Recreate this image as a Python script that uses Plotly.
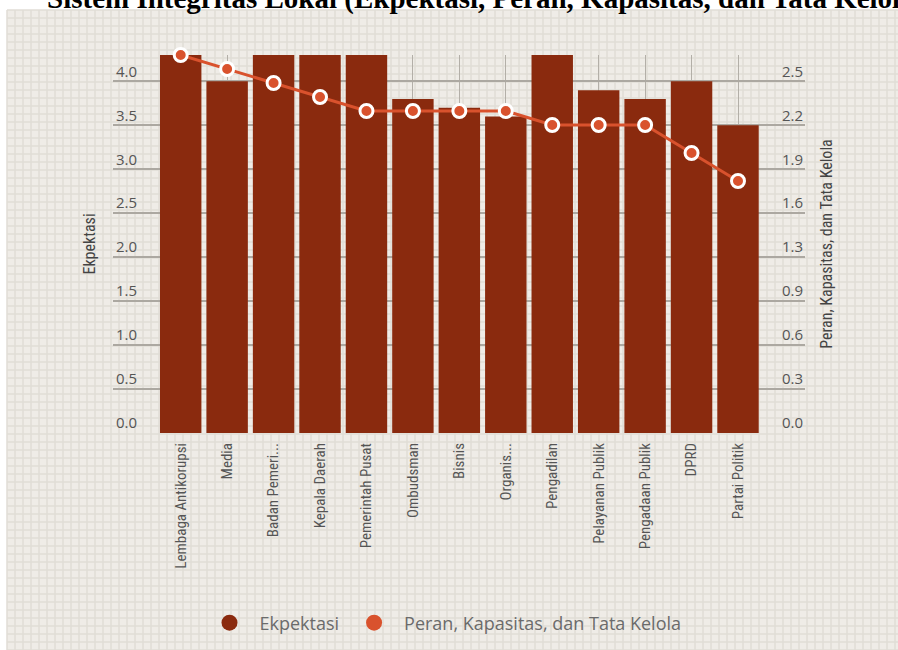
import plotly.graph_objects as go

# ---------------- data ----------------
categories = [
    "Lembaga Antikorupsi", "Media", "Badan Pemeri...", "Kepala Daerah",
    "Pemerintah Pusat", "Ombudsman", "Bisnis", "Organis...", "Pengadilan",
    "Pelayanan Publik", "Pengadaan Publik", "DPRD", "Partai Politik",
]
ekspektasi = [4.3, 4.0, 4.3, 4.3, 4.3, 3.8, 3.7, 3.6, 4.3, 3.9, 3.8, 4.0, 3.5]
peran = [2.7, 2.6, 2.5, 2.4, 2.3, 2.3, 2.3, 2.3, 2.2, 2.2, 2.2, 2.0, 1.8]
left_tick_labels = ["0.0", "0.5", "1.0", "1.5", "2.0", "2.5", "3.0", "3.5", "4.0"]
right_tick_labels = ["0.0", "0.3", "0.6", "0.9", "1.3", "1.6", "1.9", "2.2", "2.5"]

series_names = ["Ekpektasi", "Peran, Kapasitas, dan Tata Kelola"]
title_text = "Sistem Integritas Lokal (Ekpektasi, Peran, Kapasitas, dan Tata Kelola)"

# ---------------- styling / geometry ----------------
W, H = 898, 650
PL, PR, PT, PB = 113, 805, 55, 433          # plot-area pixel box
BAR_COLOR = "#8a2a0e"
LINE_COLOR = "#d9522d"
X_TICK_FONT = dict(family="Liberation Sans Narrow, Roboto Condensed, Open Sans, sans-serif",
                   size=15, color="#555555")
Y_TICK_FONT = dict(family="Open Sans, sans-serif", size=15, color="#555555")
AX_TITLE_FONT = dict(family="Liberation Sans Narrow, Roboto Condensed, Open Sans, sans-serif",
                     size=16, color="#444444")

left_max = max(ekspektasi)
right_max = max(peran)
left_tickvals = [float(t) for t in left_tick_labels]
right_tickvals = [v * right_max / left_max for v in left_tickvals]


def px_to_paper_x(px):
    return (px - PL) / (PR - PL)


def px_to_paper_y(py):
    return (PB - py) / (PB - PT)


fig = go.Figure()

fig.add_trace(go.Bar(
    x=categories, y=ekspektasi, name=series_names[0],
    marker=dict(color=BAR_COLOR, line=dict(width=0)),
    showlegend=False, yaxis="y",
))
fig.add_trace(go.Scatter(
    x=categories, y=peran, name=series_names[1], mode="lines+markers",
    line=dict(color=LINE_COLOR, width=3),
    marker=dict(color=LINE_COLOR, size=13, line=dict(color="white", width=3)),
    showlegend=False, yaxis="y2", cliponaxis=False,
))
# legend entries (filled circles like the original)
fig.add_trace(go.Scatter(x=[None], y=[None], mode="markers", name=series_names[0],
                         marker=dict(color=BAR_COLOR, size=22)))
fig.add_trace(go.Scatter(x=[None], y=[None], mode="markers", name=series_names[1],
                         marker=dict(color=LINE_COLOR, size=22)))

# background pattern (light squared paper)
bx0, by0, bx1, by1 = 7, 10, W, H
step = 8
segs = []
x = bx0
while x <= bx1:
    segs.append(f"M{px_to_paper_x(x):.5f},{px_to_paper_y(by0):.5f} L{px_to_paper_x(x):.5f},{px_to_paper_y(by1):.5f}")
    x += step
y = by0
while y <= by1:
    segs.append(f"M{px_to_paper_x(bx0):.5f},{px_to_paper_y(y):.5f} L{px_to_paper_x(bx1):.5f},{px_to_paper_y(y):.5f}")
    y += step

shapes = [
    dict(type="rect", xref="paper", yref="paper",
         x0=px_to_paper_x(bx0), x1=px_to_paper_x(bx1),
         y0=px_to_paper_y(by0), y1=px_to_paper_y(by1),
         fillcolor="#efece7", line=dict(width=0), layer="below"),
    dict(type="path", xref="paper", yref="paper", path=" ".join(segs),
         line=dict(color="#e1ddd6", width=1.5), layer="below"),
]

n = len(categories)
unit = (738 - 180.7) / (n - 1)
x_range = [-(180.7 - PL) / unit, (n - 1) + (PR - 738) / unit]

fig.update_layout(
    width=W, height=H,
    margin=dict(l=PL, r=W - PR, t=PT, b=H - PB, pad=0, autoexpand=False),
    paper_bgcolor="white", plot_bgcolor="rgba(0,0,0,0)",
    bargap=0.108,
    shapes=shapes,
    xaxis=dict(
        type="category", range=x_range, showgrid=True, gridcolor="#b3afa8", gridwidth=1,
        tickangle=-90, tickfont=X_TICK_FONT, ticks="", showline=False, zeroline=False,
        ticklabelstandoff=6, automargin=False,
    ),
    yaxis=dict(
        range=[0, left_max], tickvals=left_tickvals, ticktext=left_tick_labels,
        anchor="free", position=px_to_paper_x(137),
        showgrid=True, gridcolor="#aca8a1", gridwidth=1.5, zeroline=False, showline=False,
        ticks="", ticklabelshift=-10, ticklabelstandoff=0,
        tickfont=Y_TICK_FONT, automargin=False,
        title=dict(text=series_names[0], standoff=15, font=AX_TITLE_FONT),
    ),
    yaxis2=dict(
        range=[0, right_max], tickvals=right_tickvals, ticktext=right_tick_labels,
        overlaying="y", side="right", anchor="free", position=px_to_paper_x(781),
        showgrid=False, zeroline=False, showline=False,
        ticks="", ticklabelshift=-10, ticklabelstandoff=0,
        tickfont=Y_TICK_FONT, automargin=False,
        title=dict(text=series_names[1], standoff=18, font=AX_TITLE_FONT),
    ),
    legend=dict(
        orientation="h", xref="container", yref="container",
        x=0.5 - 6 / W, xanchor="center", y=(H - 623) / H, yanchor="middle",
        font=dict(family="Open Sans, sans-serif", size=18, color="#6b6b6b"),
        bgcolor="rgba(0,0,0,0)", itemwidth=50,
    ),
    annotations=[dict(
        text=f"<b>{title_text}</b>", xref="paper", yref="paper",
        x=px_to_paper_x(45), y=px_to_paper_y(17.5), xanchor="left", yanchor="bottom",
        showarrow=False, font=dict(family="Liberation Serif, serif", size=29, color="black"),
    )],
)

fig.write_html(
    "out.html",
    config={"displayModeBar": False},
    post_script="document.body.style.margin='0';document.body.style.overflow='hidden';",
)
